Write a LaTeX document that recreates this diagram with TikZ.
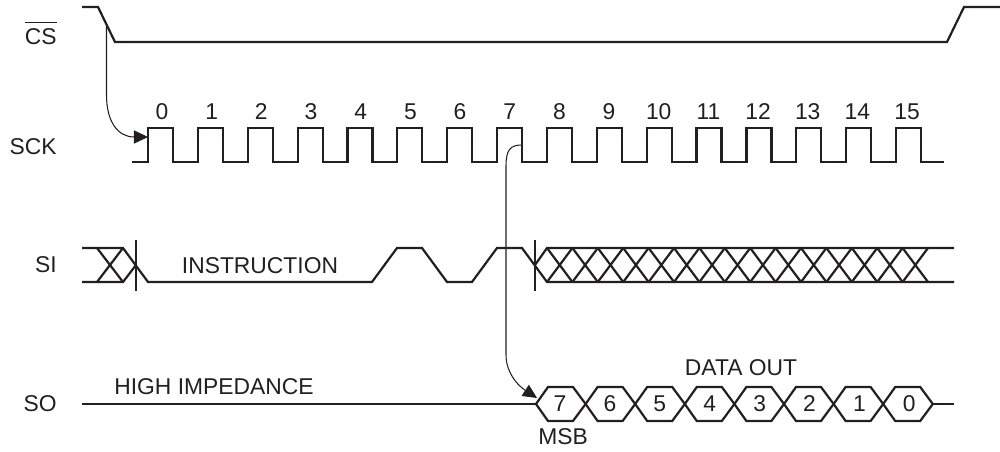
\documentclass[tikz,border=0pt]{standalone}
\usepackage{fontspec}
\setmainfont{Liberation Sans}
\usetikzlibrary{arrows.meta,positioning,calc}
\definecolor{ink}{HTML}{231F20}

\begin{document}
\begin{tikzpicture}[
    x=0.02cm, y=-0.02cm,
    label/.style={font=\fontsize{13}{15}\selectfont, text=ink, inner sep=0pt},
    signal/.style={draw=ink, line width=1.25pt, line join=miter},
    marker/.style={draw=ink, line width=0.6pt},
    arrow/.style={draw=ink, line width=0.6pt, -{Triangle[length=8pt, width=7.5pt]}}
]
\useasboundingbox (0,0) rectangle (1000,452);

% Signal names
\node[label, anchor=east] (cs) at (57,33) {\ensuremath{\overline{\mbox{\rule{0pt}{10.8pt}CS}}}};
\node[label, anchor=east] (sck) at (57,147) {SCK};
\node[label, anchor=east] (si) at (57,265) {SI};
\node[label, anchor=east] (so) at (57,404) {SO};

% Chip select
\draw[signal] (82,7) -- (98,7) -- (115,42) -- (947,42) -- (964,7) -- (1000,7);

% Clock
\draw[signal] (132,162) foreach \i in {0,...,15} {
    -- ({148+49.87*\i},162) -- ({148+49.87*\i},128) -- ({173+49.87*\i},128) -- ({173+49.87*\i},162)
} -- (944,162);
\foreach \i in {0,...,15} {
    \node[label] (clk\i) at ({162+49.67*\i},112) {\i};
}

% Serial in
\draw[signal] (82,248) -- (123,248) -- (148,282) -- (372,282) -- (397,248) -- (422,248) -- (447,282)
    -- (472,282) -- (497,248) -- (522,248) -- (547,282) -- (954,282);
\draw[signal] (82,282) -- (123,282) -- (136,265);
\draw[signal] (97,248) -- (123,282);
\draw[signal] (97,282) -- (123,248);
\draw[signal] (535,265) -- (547,248) -- (954,248);
\foreach \i in {0,...,14} {
    \draw[signal] ({547+25.4*\i},248) -- ({572.4+25.4*\i},282);
    \draw[signal] ({547+25.4*\i},282) -- ({572.4+25.4*\i},248);
}
\draw[marker] (136,240) -- (136,291);
\draw[marker] (535,240) -- (535,291);
\node[label] (instr) at (260,266) {INSTRUCTION};

% Serial out
\draw[signal] (82,404) -- (536,404);
\draw[signal] (933,404) -- (954,404);
\foreach \i/\bit in {0/7,1/6,2/5,3/4,4/3,5/2,6/1,7/0} {
    \draw[signal] ({536+49.6*\i},404) -- ({548+49.6*\i},387) -- ({573+49.6*\i},387) -- ({585.6+49.6*\i},404)
        -- ({573+49.6*\i},421) -- ({548+49.6*\i},421) -- cycle;
    \node[label] (bit\bit) at ({560+49.9*\i},404) {\bit};
}
\node[label] (himp) at (214,387) {HIGH IMPEDANCE};
\node[label] (dout) at (741,368) {DATA OUT};
\node[label] (msb) at (563,437) {MSB};

% Timing arrows
\coordinate (csedge) at (106.5,26);
\coordinate (clkfirst) at (148,137);
\coordinate (clkeight) at (522,145);
\coordinate (sofirst) at (537,398);
\draw[arrow] (csedge) -- (106.5,95) .. controls (106.5,122) and (118,137) .. (clkfirst);
\draw[arrow] (clkeight) .. controls (511,145) and (506,149) .. (506,166) -- (506,355)
    .. controls (506,372) and (517,385) .. (sofirst);
\end{tikzpicture}
\end{document}
